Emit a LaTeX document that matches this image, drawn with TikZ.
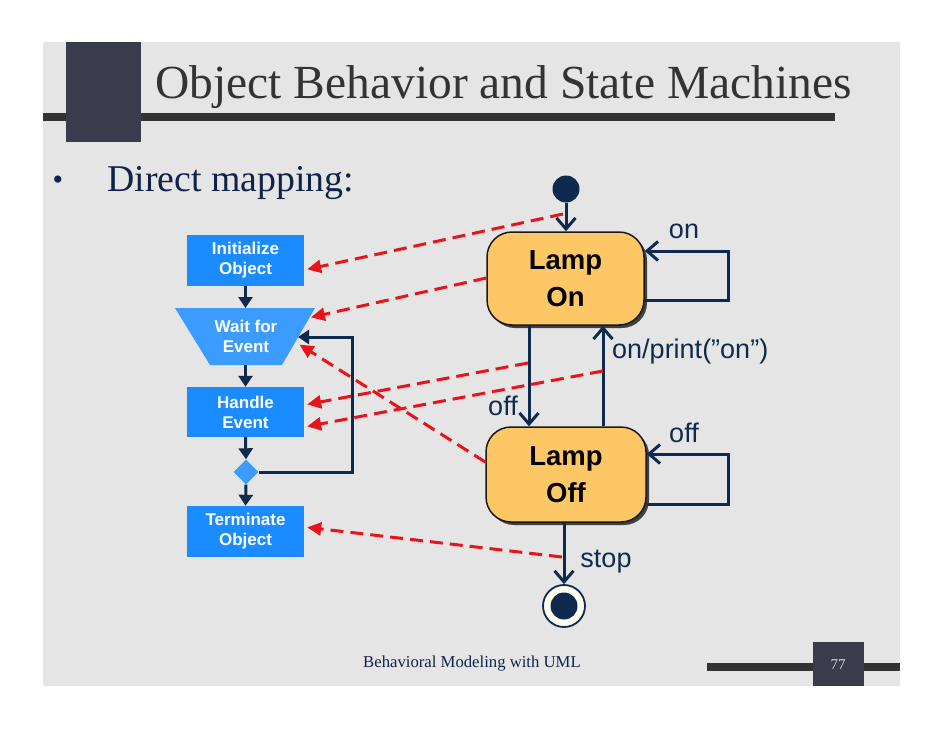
\documentclass[tikz,border=0pt]{standalone}
\usepackage{fontspec}
\setmainfont{Liberation Serif}
\newfontfamily\arialf{Liberation Sans}
\usetikzlibrary{arrows.meta,shapes.geometric,shadows,calc}
\definecolor{navy}{HTML}{0F2A4F}
\definecolor{textnavy}{HTML}{10234A}
\definecolor{bggray}{HTML}{E5E5E5}
\definecolor{darkblk}{HTML}{3A3C4E}
\definecolor{barcol}{HTML}{333333}
\definecolor{flowblue}{HTML}{1A8CFF}
\definecolor{waitblue}{HTML}{3C9BFF}
\definecolor{stateor}{HTML}{FDC766}
\definecolor{mapred}{HTML}{E8141B}
\definecolor{finalfill}{HTML}{FFFFF2}
\begin{document}
\begin{tikzpicture}[x=1pt,y=-1pt,
  flowbox/.style={rectangle, fill=flowblue, minimum width=117pt, minimum height=51pt, inner sep=0pt, text=white, font=\arialf\bfseries\fontsize{17}{20}\selectfont, align=center},
  flowtext/.style={inner sep=0pt, text=white, font=\arialf\bfseries\fontsize{17}{20}\selectfont, align=center},
  statebox/.style={rectangle, rounded corners=25pt, fill=stateor, draw=black!90, line width=1.5pt, drop shadow={shadow xshift=3pt, shadow yshift=-3pt, fill=black!75, opacity=1}, font=\arialf\bfseries\fontsize{27.5}{37}\selectfont, align=center, inner sep=0pt},
  flowarr/.style={draw=navy, line width=3pt, -{Triangle[length=11pt,width=14pt]}},
  transarr/.style={draw=navy, line width=3pt, -{Straight Barb[length=11pt,width=19pt]}},
  mapline/.style={draw=mapred, line width=3pt, dash pattern=on 13pt off 7pt, -{Triangle[length=14pt,width=13pt]}, shorten >=3pt},
  lbl/.style={text=navy, font=\arialf\fontsize{27}{30}\selectfont, inner sep=0pt}
]
\useasboundingbox (0,0) rectangle (942,728);
\fill[white] (0,0) rectangle (942,728);
\fill[bggray] (43,42) rectangle (900,686);
% title decoration
\fill[barcol] (43,113) rectangle (835,121);
\fill[darkblk] (66,42) rectangle (141,142);
\node[anchor=base west, inner sep=0pt, text=barcol, font=\fontsize{47.5}{50}\selectfont] (title) at (155,98) {Object Behavior and State Machines};
% bullet
\node[anchor=base, inner sep=0pt, text=textnavy, font=\fontsize{30}{32}\selectfont] (bul) at (58,189) {•};
\node[anchor=base west, inner sep=0pt, text=textnavy, font=\fontsize{37.8}{40}\selectfont] (dm) at (107,191) {Direct mapping:};
% footer
\fill[barcol] (707,663) rectangle (900,671);
\fill[darkblk] (813,642) rectangle (864,686);
\node[anchor=base west, inner sep=0pt, text=textnavy, font=\fontsize{16.7}{18}\selectfont] (foot) at (363,667) {Behavioral Modeling with UML};
\node[inner sep=0pt, text=black!15, font=\fontsize{15}{16}\selectfont] (pnum) at (838,665) {77};

% flowchart
\node[flowbox] (init) at (245.5,260.5) {Initialize\\Object};
\fill[waitblue] (175,308) -- (315,308) -- (282,365) -- (210,365) -- cycle;
\node[flowtext] (wait) at (246,336) {Wait for\\Event};
\coordinate (waitTop) at (245.5,308);
\coordinate (waitBot) at (245.5,365);
\coordinate (waitE) at (298,337);
\coordinate (waitR1) at (308,318);
\coordinate (waitR2) at (297,343);
\node[flowbox, minimum height=50pt] (handle) at (245.5,412) {Handle\\Event};
\node[diamond, fill=waitblue, minimum width=25pt, minimum height=25pt, inner sep=0pt] (dia) at (246,472) {};
\node[flowbox] (term) at (245.5,531.5) {Terminate\\Object};

\draw[flowarr] (init.south) -- (waitTop);
\draw[flowarr] (waitBot) -- (handle.north);
\draw[flowarr] (handle.south) -- (dia.north);
\draw[flowarr] (dia.south) -- (term.north);
\draw[flowarr] (dia.east) -- ++(94,0) |- (waitE);

% state machine
\node[statebox, minimum width=157pt, minimum height=93pt] (lampon) at (565.5,278.5) {Lamp\\On};
\node[statebox, minimum width=160pt, minimum height=95pt] (lampoff) at (566,474.5) {Lamp\\Off};
\node[circle, fill=navy, minimum size=27pt, inner sep=0pt] (start) at (566,189) {};
\node[circle, fill=finalfill, draw=navy, line width=1.8pt, minimum size=42pt, inner sep=0pt] (final) at (564,606) {};
\fill[navy] (final.center) circle (13.5pt);

\coordinate (offx) at (529,0);
\coordinate (onx) at (603,0);
\draw[transarr] (start.south) -- (start.south |- lampon.north);
\draw[transarr] (lampon.south -| offx) -- (lampoff.north -| offx);
\draw[transarr] (lampoff.north -| onx) -- (lampon.south -| onx);
\draw[transarr] ([yshift=-21.5pt]lampon.east) -- ++(84,0) |- ([yshift=27.5pt]lampon.east);
\draw[transarr] ([yshift=-29.5pt]lampoff.east) -- ++(82,0) |- ([yshift=20.5pt]lampoff.east);
\draw[transarr] (lampoff.south -| final.north) -- (final.north);

\node[lbl, anchor=base] (lon) at (684,238) {on};
\node[lbl, anchor=base] (loff1) at (503,415) {off};
\node[lbl, anchor=base west] (lprint) at (612,358) {on/print(”on”)};
\node[lbl, anchor=base] (loff2) at (684,442) {off};
\node[lbl, anchor=base] (lstop) at (606,567) {stop};

% mapping
\coordinate (m1) at (563,214);
\coordinate (m4) at (528,363);
\coordinate (m5) at (603,371);
\coordinate (m6) at (562,557);
\draw[mapline] (m1) -- ([yshift=-9.5pt]init.east);
\draw[mapline] ([yshift=0.5pt]lampon.west) -- (waitR1);
\draw[mapline] ([yshift=12.5pt]lampoff.west) -- (waitR2);
\draw[mapline] (m4) -- ([yshift=7pt]handle.east);
\draw[mapline] (m5) -- ([yshift=-15pt]handle.east);
\draw[mapline] (m6) -- ([yshift=4.5pt]term.east);
\end{tikzpicture}
\end{document}
